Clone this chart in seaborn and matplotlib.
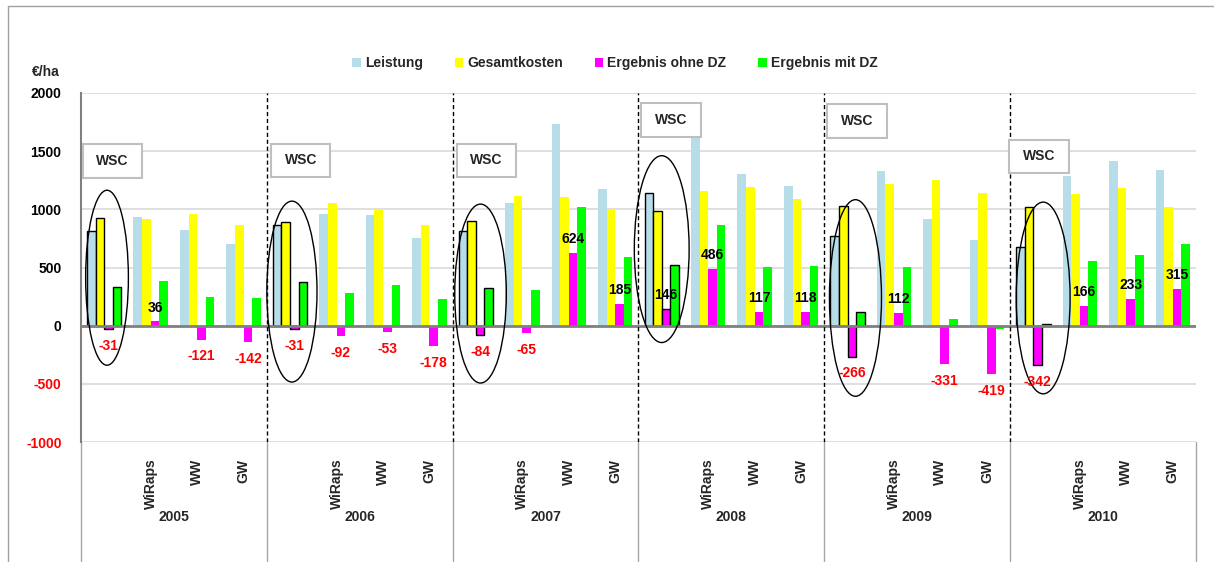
import numpy as np
import pandas as pd
import matplotlib.pyplot as plt
from matplotlib.patches import Ellipse, Rectangle
import seaborn as sns

# data (€/ha)
years = ['2005', '2006', '2007', '2008', '2009', '2010']
crops = ['WSC', 'WiRaps', 'WW', 'GW']
tick_labels = ['', 'WiRaps', 'WW', 'GW']
series = ['Leistung', 'Gesamtkosten', 'Ergebnis ohne DZ', 'Ergebnis mit DZ']
colors = ['#B7DDE8', '#FFFF00', '#FF00FF', '#00FF00']

leistung = [816, 932, 819, 703, 864, 963, 952, 754, 816, 1051, 1731, 1176,
            1139, 1650, 1306, 1204, 768, 1329, 915, 734, 674, 1289, 1414, 1337]
kosten = [929, 915, 963, 867, 892, 1057, 1003, 867, 901, 1116, 1108, 992,
          989, 1156, 1193, 1088, 1028, 1221, 1249, 1144, 1020, 1136, 1187, 1020]
ohne_dz = [-31, 36, -121, -142, -31, -92, -53, -178, -84, -65, 624, 185,
           146, 486, 117, 118, -266, 112, -331, -419, -342, 166, 233, 315]
mit_dz = [334, 388, 244, 235, 377, 283, 351, 227, 326, 309, 1023, 592,
          521, 867, 504, 513, 116, 504, 54, -30, 17, 552, 609, 703]

# annotation layout for the WSC markers (per year)
box_bottom = [1270, 1275, 1275, 1620, 1615, 1310]
box_dx = [0.04, 0.09, 0.09, 0.06, 0.06, -0.02]
ell_dx = [0.06, 0.04, 0.10, 0.0, 0.17, 0.21]
ell_y = [412, 293, 276, 658, 238, 238]
ell_w = [0.92, 1.08, 1.11, 1.18, 1.12, 1.16]
ell_h = [1504, 1555, 1538, 1606, 1690, 1648]

sns.set_style('white')
plt.rcParams['font.family'] = ['Liberation Sans', 'DejaVu Sans']
plt.rcParams['font.weight'] = 'bold'
plt.rcParams['font.size'] = 10
plt.rcParams['axes.unicode_minus'] = False

positions = [f'{y} {c}' for y in years for c in crops]
df = pd.DataFrame({
    'pos': positions * 4,
    'series': np.repeat(series, len(positions)),
    'value': leistung + kosten + ohne_dz + mit_dz,
})

W, H = 1214, 562
fig = plt.figure(figsize=(W / 100, H / 100), dpi=100)
ax = fig.add_axes([81 / W, 1 - 442 / H, (1196 - 81) / W, 349 / H])

sns.barplot(data=df, x='pos', y='value', hue='series', order=positions,
            hue_order=series, palette=colors, saturation=1, width=0.74,
            errorbar=None, linewidth=0, ax=ax)

handles, labels = ax.get_legend_handles_labels()
ax.get_legend().remove()

# black outline on the WSC bars
for cont in ax.containers:
    for i in range(0, len(positions), 4):
        cont[i].set_edgecolor('black')
        cont[i].set_linewidth(1)

ax.set_xlim(-0.5, len(positions) - 0.5)
ax.set_ylim(-1000, 2000)
ax.set_yticks(range(-1000, 2001, 500))
ax.set_xticks(range(len(positions)))
ax.set_xticklabels(tick_labels * len(years), rotation=90, fontweight='bold')
ax.set_xlabel('')
ax.set_ylabel('')
ax.tick_params(axis='x', length=0, pad=12)
ax.tick_params(axis='y', length=0, pad=14)
for lab, v in zip(ax.get_yticklabels(), ax.get_yticks()):
    lab.set_fontweight('bold')
    lab.set_color('#FF0000' if v < 0 else 'black')

ax.yaxis.grid(True, color='#D9D9D9', lw=1.2)
ax.set_axisbelow(True)
for s in ['top', 'right', 'bottom']:
    ax.spines[s].set_visible(False)
ax.spines['left'].set_color('#808080')
ax.spines['left'].set_linewidth(1.5)
ax.axhline(0, color='#808080', lw=2, zorder=3)

# year separators
for k in range(1, len(years)):
    ax.axvline(4 * k - 0.5, color='black', ls=(0, (3, 2)), lw=1, zorder=4)
xt = ax.get_xaxis_transform()
for k in range(len(years) + 1):
    ax.plot([4 * k - 0.5] * 2, [0, -0.34], transform=xt, clip_on=False,
            color='#A6A6A6', lw=1)
for i, y in enumerate(years):
    ax.text(4 * i + 1.5, -0.215, y, transform=xt, ha='center', va='center',
            fontweight='bold')

# labels on "Ergebnis ohne DZ"
for bar, v in zip(ax.containers[2], ohne_dz):
    x = bar.get_x() + bar.get_width() / 2
    if v >= 0:
        ax.annotate(str(v), (x, v), xytext=(0, 5), textcoords='offset points',
                    ha='center', va='bottom', color='black', fontweight='bold',
                    zorder=6)
    else:
        ax.annotate(str(v), (x, v), xytext=(0, -7), textcoords='offset points',
                    ha='center', va='top', color='#FF0000', fontweight='bold',
                    zorder=6)

# WSC boxes and ellipses
for i in range(len(years)):
    x0 = 4 * i - 0.5 + box_dx[i]
    ax.add_patch(Rectangle((x0, box_bottom[i]), 1.28, 290, fc='white',
                           ec='#BFBFBF', lw=1.5, zorder=7))
    ax.text(x0 + 0.64, box_bottom[i] + 145, 'WSC', ha='center', va='center',
            fontweight='bold', zorder=8)
    ax.add_patch(Ellipse((4 * i + ell_dx[i], ell_y[i]), ell_w[i], ell_h[i],
                         fill=False, ec='black', lw=1, zorder=5))

fig.legend(handles, labels, loc='center', bbox_to_anchor=(615 / W, 1 - 63 / H),
           ncol=4, frameon=False, handlelength=0.6, handleheight=0.6,
           handletextpad=0.3, columnspacing=2.3,
           prop=dict(weight='bold', size=10))
fig.text(32 / W, 1 - 72 / H, '€/ha', ha='left', va='center', fontweight='bold')

fig.add_artist(Rectangle((8 / W, -0.1), 1.0, 1.1 - 6 / H, fill=False,
                         ec='#A0A0A0', lw=1, transform=fig.transFigure))

fig.savefig('out.png', dpi=100)
